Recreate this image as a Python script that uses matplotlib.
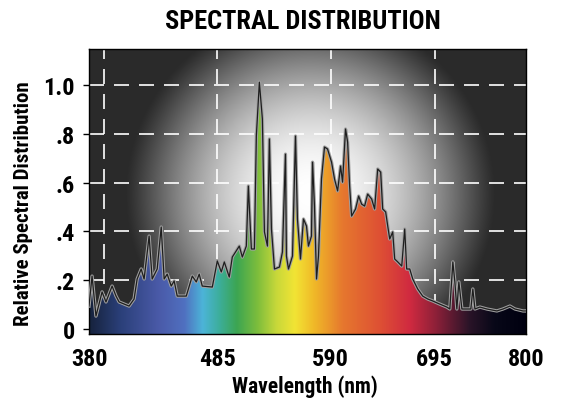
import numpy as np
import matplotlib.pyplot as plt
import matplotlib.patheffects as pe
from matplotlib import font_manager
from matplotlib.colors import to_rgb
from matplotlib.patches import Polygon

# spectrum (nm, relative intensity)
wavelength = [380.0, 382.5, 385.7, 390.7, 393.9, 398.9, 402.1, 404.6, 412.8, 416.9,
              419.4, 422.7, 425.1, 429.2, 431.7, 435.8, 439.1, 441.5, 444.0, 447.3,
              449.7, 452.2, 459.6, 464.5, 467.8, 470.2, 472.7, 480.9, 485.0, 488.7,
              491.5, 496.1, 498.9, 505.4, 508.2, 511.9, 513.8, 516.6, 519.4, 521.2,
              524.0, 526.8, 528.7, 531.5, 533.3, 535.2, 538.0, 542.6, 545.4, 548.2,
              549.1, 551.0, 554.7, 557.5, 559.3, 562.1, 564.9, 567.7, 569.5, 572.3,
              573.3, 575.1, 577.0, 578.8, 581.6, 584.4, 587.2, 591.0, 594.0, 597.1,
              600.1, 602.1, 605.1, 607.2, 609.2, 611.2, 615.2, 618.3, 621.3, 624.3,
              627.4, 631.4, 634.4, 637.5, 640.5, 642.5, 645.5, 647.6, 649.6, 652.6,
              654.6, 657.7, 661.7, 664.7, 666.7, 669.8, 672.8, 677.8, 682.8, 687.9,
              692.9, 700.8, 708.8, 712.3, 715.8, 718.1, 720.4, 722.7, 726.2, 731.9,
              736.5, 738.8, 741.2, 746.9, 755.0, 766.5, 773.5, 781.5, 787.3, 796.5,
              800.0]
intensity = [0.094, 0.217, 0.053, 0.152, 0.111, 0.176, 0.135, 0.111, 0.094, 0.123,
             0.205, 0.246, 0.205, 0.381, 0.205, 0.246, 0.418, 0.205, 0.225, 0.176,
             0.197, 0.135, 0.135, 0.217, 0.193, 0.225, 0.176, 0.172, 0.279, 0.234,
             0.275, 0.213, 0.295, 0.340, 0.295, 0.340, 0.586, 0.328, 0.328, 0.791,
             1.012, 0.861, 0.398, 0.340, 0.779, 0.410, 0.246, 0.254, 0.316, 0.717,
             0.299, 0.246, 0.299, 0.791, 0.451, 0.287, 0.451, 0.422, 0.340, 0.381,
             0.684, 0.504, 0.205, 0.299, 0.615, 0.746, 0.738, 0.684, 0.615, 0.566,
             0.668, 0.602, 0.820, 0.766, 0.586, 0.463, 0.492, 0.545, 0.512, 0.504,
             0.553, 0.533, 0.492, 0.656, 0.643, 0.492, 0.480, 0.422, 0.369, 0.398,
             0.287, 0.275, 0.258, 0.410, 0.246, 0.246, 0.205, 0.164, 0.135, 0.123,
             0.115, 0.102, 0.090, 0.082, 0.275, 0.193, 0.082, 0.193, 0.082, 0.082,
             0.082, 0.164, 0.082, 0.090, 0.082, 0.074, 0.082, 0.094, 0.082, 0.074,
             0.074]

x_ticks = [380, 485, 590, 695, 800]
x_tick_labels = ["380", "485", "590", "695", "800"]
y_ticks = [0, 0.2, 0.4, 0.6, 0.8, 1.0]
y_tick_labels = ["0", ".2", ".4", ".6", ".8", "1.0"]

# colours of the spectrum fill along the wavelength
color_wl = [380, 405, 437, 458, 473, 487, 503, 522, 540, 557, 575, 602, 640, 670, 704, 735, 764, 800]
color_hex = ["#16223c", "#2a3f78", "#4a5aa8", "#5070c0", "#4cb4d8", "#3cae9a", "#3ca552",
             "#7cbd3c", "#c8d83a", "#f2e434", "#f0b828", "#e6782e", "#de5034", "#d02a40",
             "#7a1e36", "#2a1428", "#080818", "#000010"]

# the printed axis is not evenly spaced: tick label pixel positions
WL_A = [0, 380, 485, 590, 695, 800, 2000]
PX_A = [-373.2, 90, 218, 331, 435, 526, 1566]


def fwd(x):
    return np.interp(x, WL_A, PX_A)


def inv(p):
    return np.interp(p, PX_A, WL_A)


# pick a condensed bold face if one is installed
bold_names = {f.name for f in font_manager.fontManager.ttflist
              if isinstance(f.weight, int) and f.weight >= 700 or f.weight == "bold"}
family = "DejaVu Sans"
for name in ["Roboto Condensed", "Asap Condensed", "Barlow Semi Condensed",
             "Archivo Narrow", "Barlow Condensed"]:
    if name in bold_names:
        family = name
        break
plt.rcParams["font.family"] = [family, "DejaVu Sans"]
plt.rcParams["font.weight"] = "bold"

fig = plt.figure(figsize=(5.64, 4.02), dpi=100)
ax = fig.add_axes([89 / 564, 67 / 402, 437 / 564, 285 / 402])
ax.set_xscale("function", functions=(fwd, inv))
ax.set_xlim(380, 800)
ax.set_ylim(-0.0205, 1.148)

# radial glow background
ny, nx = 285, 437
yy, xx = np.mgrid[0:ny, 0:nx]
d = np.hypot(xx - 221, yy - 145)
t = np.clip(1 - (d / 185) ** 2, 0, 1) ** 1.2
g = 0.165 + 0.835 * t
ax.imshow(np.dstack([g, g, g]), extent=[0, 1, 0, 1], transform=ax.transAxes,
          aspect="auto", origin="upper", zorder=0, interpolation="bilinear")

# dashed white grid
for yv in y_ticks[1:]:
    ax.axhline(yv, color="white", lw=1.2, dashes=(9, 6), zorder=1)
for xv in [392] + x_ticks[1:4]:
    ax.axvline(xv, color="white", lw=1.2, dashes=(9, 6), zorder=1)

# rainbow fill clipped to the spectrum
cols = np.linspace(0, 1, 600)
wl_cols = inv(90 + cols * 436)
rgb = np.array([to_rgb(c) for c in color_hex])
strip = np.stack([np.interp(wl_cols, color_wl, rgb[:, k]) for k in range(3)], axis=-1)
img = ax.imshow(strip[np.newaxis, :, :], extent=[0, 1, 0, 1], transform=ax.transAxes,
                aspect="auto", zorder=2, interpolation="bilinear")
verts = [(380, -0.05)] + list(zip(wavelength, intensity)) + [(800, -0.05)]
shape = Polygon(verts, closed=True, facecolor="none", edgecolor="none",
                transform=ax.transData)
ax.add_patch(shape)
img.set_clip_path(shape)

ax.plot(wavelength, intensity, color="#1e1e1e", lw=0.9, zorder=3,
        path_effects=[pe.Stroke(linewidth=2.4, foreground="#a0a0a0"), pe.Normal()])

ax.set_xticks(x_ticks, x_tick_labels)
ax.set_yticks(y_ticks, y_tick_labels)
ax.tick_params(axis="x", length=0, pad=9.5, labelsize=17.5)
ax.tick_params(axis="y", length=4, width=1, pad=6, labelsize=17.5)
for s in ax.spines.values():
    s.set_color("black")
    s.set_linewidth(1)

fig.text(303 / 564, 1 - 22 / 402, "SPECTRAL DISTRIBUTION", ha="center", va="center",
         fontsize=19, weight="bold")
fig.text(305 / 564, 1 - 387 / 402, "Wavelength (nm)", ha="center", va="center",
         fontsize=15.5, weight="bold")
fig.text(24 / 564, 1 - 204 / 402, "Relative Spectral Distribution", ha="center",
         va="center", rotation=90, fontsize=15, weight="bold")

fig.savefig("out.png", dpi=100)
